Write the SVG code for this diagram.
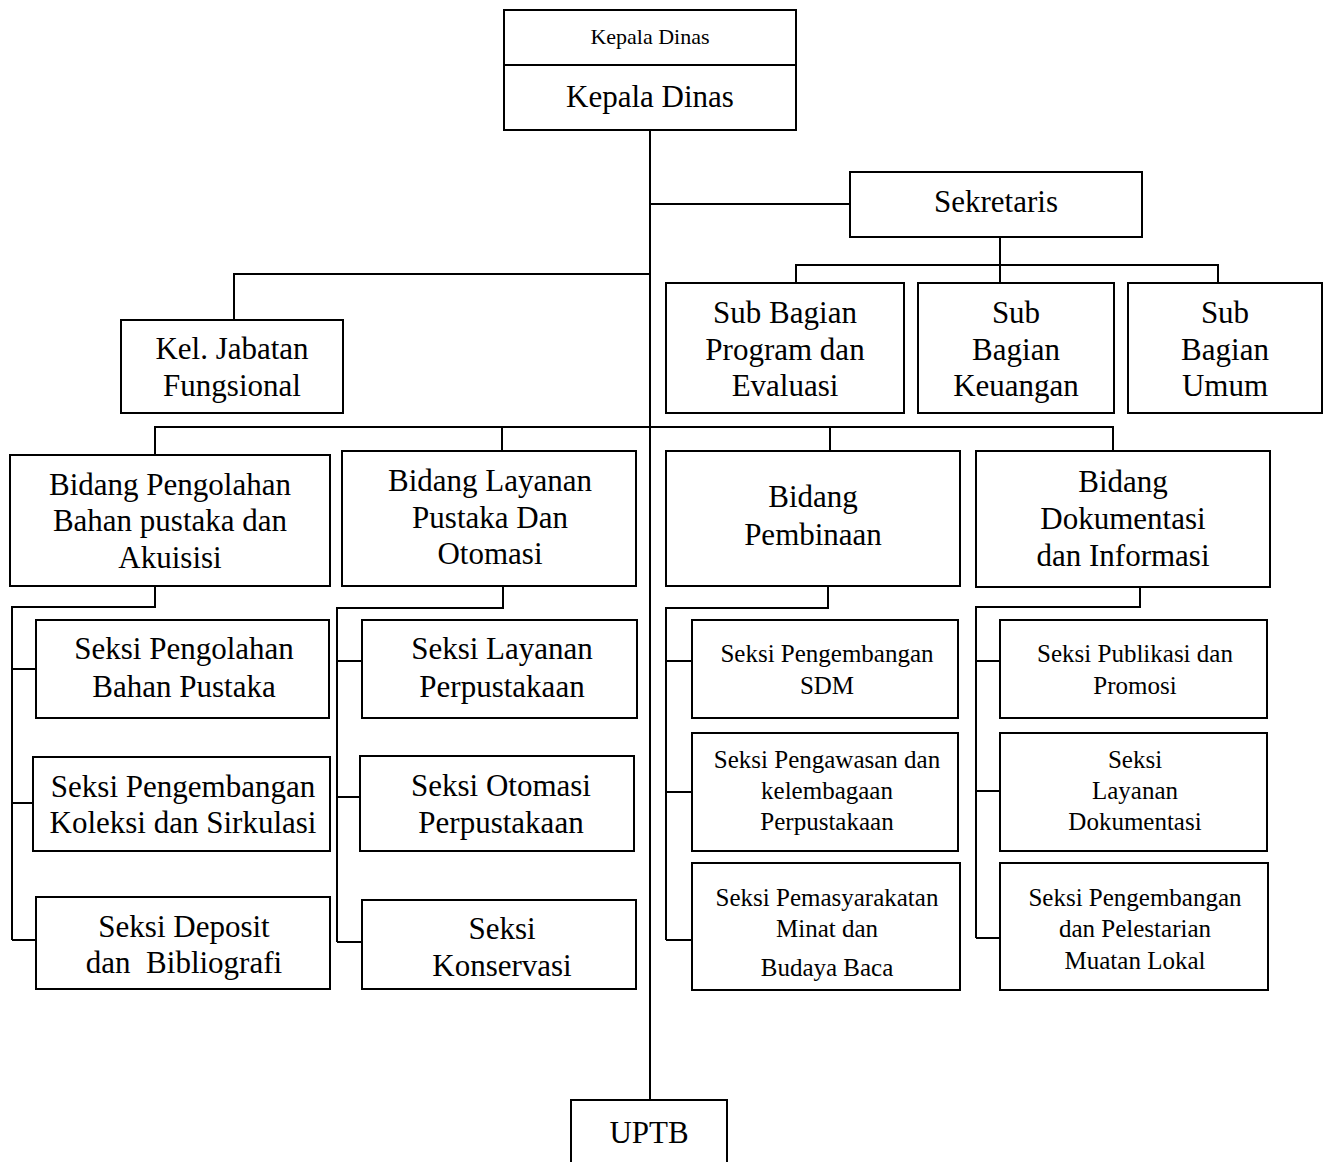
<svg xmlns="http://www.w3.org/2000/svg" width="1330" height="1162" viewBox="0 0 1330 1162">
<style>
rect{fill:#fff;stroke:#000;stroke-width:2}
#connectors path{fill:none;stroke:#000;stroke-width:2}
text{font-family:"Liberation Serif","Times New Roman",serif;fill:#000;text-anchor:middle}
.b{font-size:31px}
.s{font-size:25px}
.t{font-size:22px}
</style>
<rect x="0" y="0" width="1330" height="1162" style="stroke:none"/>
<g id="connectors">
<path d="M650 130V1100"/>
<path d="M650 204H850"/>
<path d="M1000 237V283M796 283V265H1218V283"/>
<path d="M650 274H234V320"/>
<path d="M155 455V427H1113V451M502 427V451M830 427V451"/>
<path d="M155 586V607H12V940M12 669H36M12 803H34M12 940H36"/>
<path d="M503 586V608H337V942M337 661H362M337 797H360M337 942H362"/>
<path d="M828 586V608H666V940M666 661H692M666 792H692M666 940H692"/>
<path d="M1140 587V607H976V938M976 661H1000M976 791H1000M976 938H1000"/>
</g>
<g id="kepala">
<rect x="504" y="10" width="292" height="120"/>
<path d="M504 65H796" stroke="#000" stroke-width="2"/>
<text class="t" x="650" y="44">Kepala Dinas</text>
<text class="b" x="650" y="107">Kepala Dinas</text>
</g>
<g id="sekretaris">
<rect x="850" y="172" width="292" height="65"/>
<text class="b" x="996" y="212">Sekretaris</text>
</g>
<g id="kel-jabatan">
<rect x="121" y="320" width="222" height="93"/>
<text class="b" x="232" y="359">Kel. Jabatan</text>
<text class="b" x="232" y="396">Fungsional</text>
</g>
<g id="sub-program">
<rect x="666" y="283" width="238" height="130"/>
<text class="b" x="785" y="323">Sub Bagian</text>
<text class="b" x="785" y="360">Program dan</text>
<text class="b" x="785" y="396">Evaluasi</text>
</g>
<g id="sub-keuangan">
<rect x="918" y="283" width="196" height="130"/>
<text class="b" x="1016" y="323">Sub</text>
<text class="b" x="1016" y="360">Bagian</text>
<text class="b" x="1016" y="396">Keuangan</text>
</g>
<g id="sub-umum">
<rect x="1128" y="283" width="194" height="130"/>
<text class="b" x="1225" y="323">Sub</text>
<text class="b" x="1225" y="360">Bagian</text>
<text class="b" x="1225" y="396">Umum</text>
</g>
<g id="bidang-pengolahan">
<rect x="10" y="455" width="320" height="131"/>
<text class="b" x="170" y="495">Bidang Pengolahan</text>
<text class="b" x="170" y="531">Bahan pustaka dan</text>
<text class="b" x="170" y="568">Akuisisi</text>
</g>
<g id="bidang-layanan">
<rect x="342" y="451" width="294" height="135"/>
<text class="b" x="490" y="491">Bidang Layanan</text>
<text class="b" x="490" y="528">Pustaka Dan</text>
<text class="b" x="490" y="564">Otomasi</text>
</g>
<g id="bidang-pembinaan">
<rect x="666" y="451" width="294" height="135"/>
<text class="b" x="813" y="507">Bidang</text>
<text class="b" x="813" y="545">Pembinaan</text>
</g>
<g id="bidang-dokumentasi">
<rect x="976" y="451" width="294" height="136"/>
<text class="b" x="1123" y="492">Bidang</text>
<text class="b" x="1123" y="529">Dokumentasi</text>
<text class="b" x="1123" y="566">dan Informasi</text>
</g>
<g id="seksi-pengolahan">
<rect x="36" y="620" width="293" height="98"/>
<text class="b" x="184" y="659">Seksi Pengolahan</text>
<text class="b" x="184" y="697">Bahan Pustaka</text>
</g>
<g id="seksi-koleksi">
<rect x="33" y="757" width="297" height="94"/>
<text class="b" x="183" y="797">Seksi Pengembangan</text>
<text class="b" x="183" y="833">Koleksi dan Sirkulasi</text>
</g>
<g id="seksi-deposit">
<rect x="36" y="897" width="294" height="92"/>
<text class="b" x="184" y="937">Seksi Deposit</text>
<text class="b" x="184" y="973" xml:space="preserve">dan  Bibliografi</text>
</g>
<g id="seksi-layanan">
<rect x="362" y="620" width="275" height="98"/>
<text class="b" x="502" y="659">Seksi Layanan</text>
<text class="b" x="502" y="697">Perpustakaan</text>
</g>
<g id="seksi-otomasi">
<rect x="360" y="756" width="274" height="95"/>
<text class="b" x="501" y="796">Seksi Otomasi</text>
<text class="b" x="501" y="833">Perpustakaan</text>
</g>
<g id="seksi-konservasi">
<rect x="362" y="900" width="274" height="89"/>
<text class="b" x="502" y="939">Seksi</text>
<text class="b" x="502" y="976">Konservasi</text>
</g>
<g id="seksi-sdm">
<rect x="692" y="620" width="266" height="98"/>
<text class="s" x="827" y="662">Seksi Pengembangan</text>
<text class="s" x="827" y="694">SDM</text>
</g>
<g id="seksi-pengawasan">
<rect x="692" y="733" width="266" height="118"/>
<text class="s" x="827" y="768">Seksi Pengawasan dan</text>
<text class="s" x="827" y="799">kelembagaan</text>
<text class="s" x="827" y="830">Perpustakaan</text>
</g>
<g id="seksi-pemasyarakatan">
<rect x="692" y="863" width="268" height="127"/>
<text class="s" x="827" y="906">Seksi Pemasyarakatan</text>
<text class="s" x="827" y="937">Minat dan</text>
<text class="s" x="827" y="976">Budaya Baca</text>
</g>
<g id="seksi-publikasi">
<rect x="1000" y="620" width="267" height="98"/>
<text class="s" x="1135" y="662">Seksi Publikasi dan</text>
<text class="s" x="1135" y="694">Promosi</text>
</g>
<g id="seksi-dokumentasi">
<rect x="1000" y="733" width="267" height="118"/>
<text class="s" x="1135" y="768">Seksi</text>
<text class="s" x="1135" y="799">Layanan</text>
<text class="s" x="1135" y="830">Dokumentasi</text>
</g>
<g id="seksi-pelestarian">
<rect x="1000" y="863" width="268" height="127"/>
<text class="s" x="1135" y="906">Seksi Pengembangan</text>
<text class="s" x="1135" y="937">dan Pelestarian</text>
<text class="s" x="1135" y="969">Muatan Lokal</text>
</g>
<g id="uptb">
<rect x="571" y="1100" width="156" height="70"/>
<text class="b" x="649" y="1143">UPTB</text>
</g>
</svg>
